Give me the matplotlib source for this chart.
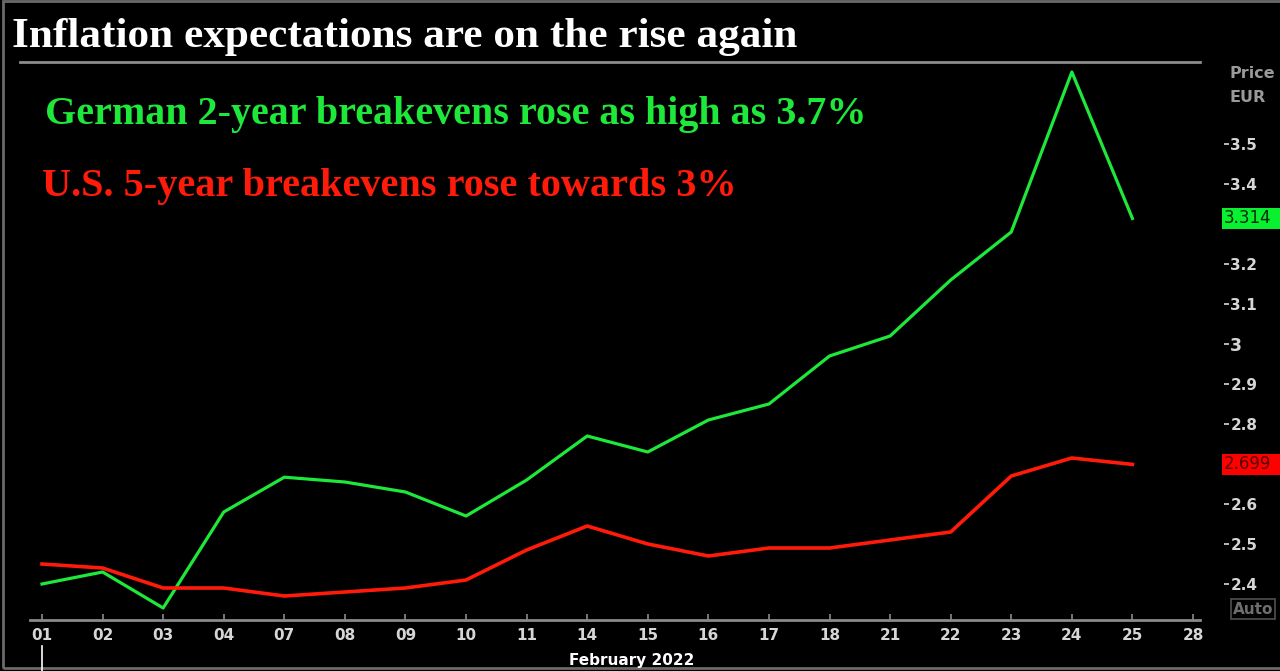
import matplotlib
matplotlib.use("Agg")
import matplotlib.pyplot as plt
import matplotlib.transforms as mtransforms
from matplotlib.patches import Rectangle
from matplotlib.lines import Line2D

# ---------------- data ----------------
day_labels = ["01", "02", "03", "04", "07", "08", "09", "10", "11", "14",
              "15", "16", "17", "18", "21", "22", "23", "24", "25", "28"]
german_2y = [2.40, 2.43, 2.34, 2.58, 2.667, 2.655, 2.63, 2.57, 2.66, 2.77,
             2.73, 2.81, 2.85, 2.97, 3.02, 3.16, 3.28, 3.68, 3.314]
us_5y = [2.45, 2.44, 2.39, 2.39, 2.37, 2.38, 2.39, 2.41, 2.485, 2.545,
         2.50, 2.47, 2.49, 2.49, 2.51, 2.53, 2.67, 2.715, 2.699]
y_ticks = [2.4, 2.5, 2.6, 2.8, 2.9, 3.0, 3.1, 3.2, 3.4, 3.5]
title = "Inflation expectations are on the rise again"
note_de = "German 2-year breakevens rose as high as 3.7%"
note_us = "U.S. 5-year breakevens rose towards 3%"
month_label = "February 2022"

W, H = 1280, 671
DPI = 100
GREEN = "#1ee83a"
RED = "#ff1a0a"
GREY = "#8a8a8a"
TICKCOL = "#d6d6d6"

fig = plt.figure(figsize=(W / DPI, H / DPI), dpi=DPI, facecolor="black")


def fx(px):
    return px / W


def fy(py):
    return 1 - py / H


ax_l, ax_r, ax_t, ax_b = 30, 1200, 62, 620
ax = fig.add_axes([fx(ax_l), fy(ax_b), fx(ax_r - ax_l), (ax_b - ax_t) / H])
ax.set_facecolor("black")

x_idx = list(range(len(day_labels)))
ax.plot(x_idx[:len(german_2y)], german_2y, color=GREEN, lw=2.3, solid_joinstyle="round")
ax.plot(x_idx[:len(us_5y)], us_5y, color=RED, lw=2.6, solid_joinstyle="round")

spacing = (1193 - 42) / 19
ax.set_xlim(-(42 - ax_l) / spacing, 19 + (ax_r - 1193) / spacing)
ax.set_ylim(3 - (ax_b - 344) / 400, 3 + (344 - ax_t) / 400)

# x axis
ax.set_xticks(x_idx)
ax.set_xticklabels(day_labels)
ax.tick_params(axis="x", direction="in", length=4, width=1.2, color=GREY,
               labelcolor=TICKCOL, labelsize=11, pad=6)
for lab in ax.get_xticklabels():
    lab.set_fontfamily("DejaVu Sans")
    lab.set_fontweight("bold")

# y axis on the right, moved outward
ax.yaxis.tick_right()
ax.spines["right"].set_position(("outward", 24 * 72 / DPI))
ax.spines["right"].set_visible(False)
ax.spines["left"].set_visible(False)
ax.spines["top"].set_visible(False)
ax.spines["bottom"].set_color(GREY)
ax.spines["bottom"].set_linewidth(2)
ax.set_yticks(y_ticks)
ax.set_yticklabels([("%g" % v) for v in y_ticks])
ax.tick_params(axis="y", which="both", direction="out", length=3.5, width=1.2,
               color=TICKCOL, labelcolor=TICKCOL, labelsize=11, pad=1,
               left=False, right=True, labelleft=False, labelright=True)
for lab in ax.get_yticklabels():
    lab.set_fontfamily("DejaVu Sans")
    lab.set_fontweight("bold")
    if lab.get_text() == "3":
        lab.set_fontsize(12.5)

# last-value badges
blend = mtransforms.blended_transform_factory(ax.transAxes, ax.transData)
bx = (1222 - ax_l) / (ax_r - ax_l)
bw = (1282 - 1222) / (ax_r - ax_l)
bh = 21 / 400
for val, fc, tc in [(german_2y[-1], "#08f030", "#042a04"), (us_5y[-1], "#ff0000", "#5a0000")]:
    ax.add_patch(Rectangle((bx, val - bh / 2), bw, bh, transform=blend, fc=fc, ec="none",
                           clip_on=False, zorder=9))
    ax.text(bx + 1.5 / (ax_r - ax_l), val, "%.3f" % val, transform=blend, ha="left",
            va="center", fontsize=12, color=tc, family="DejaVu Sans", zorder=10,
            clip_on=False)

# month label and cursor line
fig.text(fx(632), fy(660), month_label, ha="center", va="center", color="white",
         fontsize=11, fontweight="bold", family="DejaVu Sans")
fig.add_artist(Line2D([fx(42), fx(42)], [fy(646), fy(671)], color="white", lw=1.2))

# Price / EUR / Auto
fig.text(fx(1252), fy(73), "Price", ha="center", va="center", color="#9a9a9a",
         fontsize=11.5, fontweight="bold", family="DejaVu Sans")
fig.text(fx(1248), fy(97), "EUR", ha="center", va="center", color="#9a9a9a",
         fontsize=11.5, fontweight="bold", family="DejaVu Sans")
fig.text(fx(1253), fy(609), "Auto", ha="center", va="center", color="#6e6e6e",
         fontsize=11, fontweight="bold", family="DejaVu Sans",
         bbox=dict(boxstyle="square,pad=0.15", fc="black", ec="#505050", lw=1.2))

# separator line and frame
fig.add_artist(Line2D([fx(20), fx(1200)], [fy(62), fy(62)], color="#8c8c8c", lw=2))
fig.add_artist(Rectangle((fx(3), fy(668)), fx(1280), (668 - 1) / H, fill=False,
                         ec="#6a6a6a", lw=2, transform=fig.transFigure))

# headline texts, sized to reference widths
renderer = fig.canvas.get_renderer()


def fitted_text(x_px, base_px, s, color, width_px):
    t = fig.text(fx(x_px), fy(base_px), s, ha="left", va="baseline", color=color,
                 fontsize=30, fontweight="bold", family="Liberation Serif")
    w = t.get_window_extent(renderer).width
    t.set_fontsize(30 * width_px / w)
    return t


fitted_text(12, 47, title, "white", 783)
fitted_text(45, 124, note_de, GREEN, 823)
fitted_text(42, 196, note_us, RED, 695)

fig.savefig("out.png", dpi=DPI, facecolor="black")
